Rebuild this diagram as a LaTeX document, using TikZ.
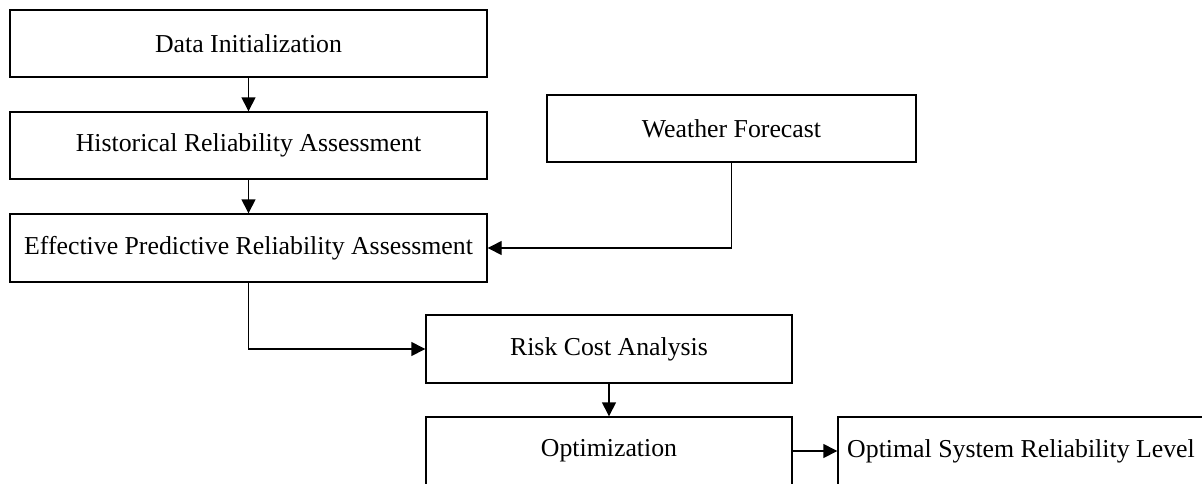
\documentclass[tikz,border=0pt]{standalone}
\usepackage{fontspec}
\setmainfont{Liberation Serif}
\usetikzlibrary{arrows.meta}

\begin{document}
\begin{tikzpicture}[x=1pt,y=-1pt,
  stepbox/.style={draw, line width=1.4pt, inner sep=0pt, minimum height=67pt,
                  font=\fontsize{25.8}{30}\selectfont},
  flow/.style={line width=1.4pt, -{Triangle[length=14pt,width=14pt]}}]
  \useasboundingbox (0,0) rectangle (1202,483);
  \clip (0,0) rectangle (1202,483);

  % left column
  \node[stepbox, minimum width=477pt] (init) at (248.5,43.5) {Data Initialization};
  \node[stepbox, minimum width=477pt] (hist) at (248.5,145.5) {Historical Reliability Assessment};
  \node[stepbox, minimum width=477pt, minimum height=68pt] (epra) at (248.5,248) {Effective Predictive Reliability Assessment};

  % weather input
  \node[stepbox, minimum width=369pt] (wf) at (731.5,128.5) {Weather Forecast};

  % cost and optimisation chain
  \node[stepbox, minimum width=366pt, minimum height=68pt] (risk) at (609,349) {Risk Cost Analysis};
  \node[stepbox, minimum width=366pt, minimum height=68pt] (opt) at (609,451) {Optimization};
  % result box runs past the right edge of the page
  \node[stepbox, minimum width=384pt, minimum height=68pt] (osrl) at (1030,451) {\hspace*{-18pt}Optimal System Reliability Level};

  % connectors
  \draw[flow] (init) -- (hist);
  \draw[flow] (hist) -- (epra);
  \draw[flow] (wf.south) |- (epra.east);
  \draw[flow] (epra.south) |- (risk.west);
  \draw[flow] (risk) -- (opt);
  \draw[flow] (opt) -- (osrl);
\end{tikzpicture}
\end{document}
